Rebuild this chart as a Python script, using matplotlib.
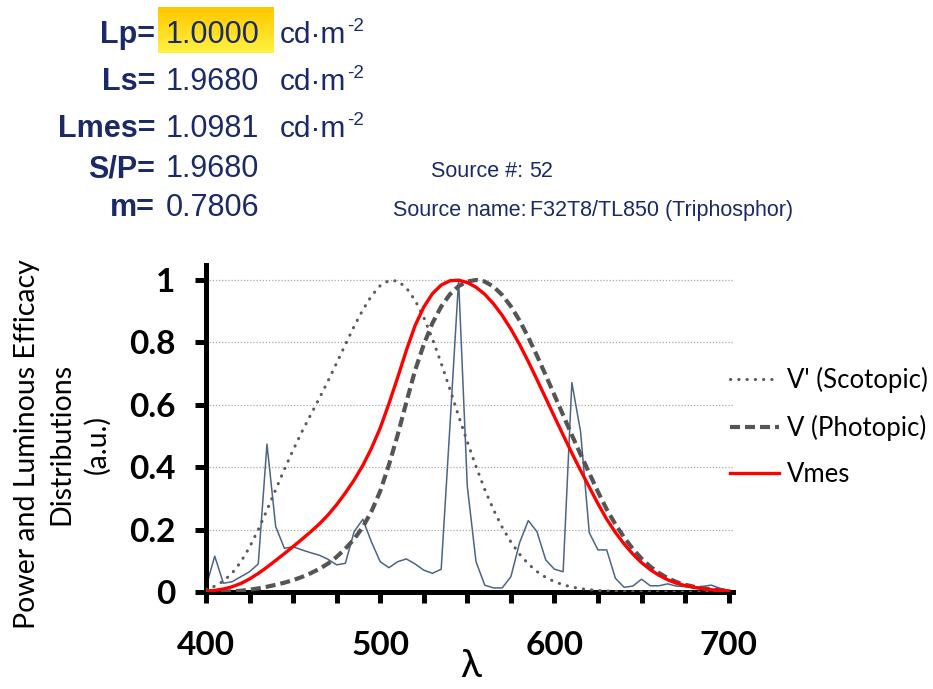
import numpy as np
import matplotlib
matplotlib.use("Agg")
import matplotlib.pyplot as plt

# wavelengths (nm), 5 nm steps
wl = list(range(400, 701, 5))

# CIE scotopic V'(lambda)
v_scot = [0.00929, 0.01852, 0.03484, 0.0604, 0.0966, 0.1436, 0.1998, 0.2625, 0.3281, 0.3931,
          0.455, 0.513, 0.567, 0.62, 0.676, 0.734, 0.793, 0.851, 0.904, 0.949,
          0.982, 0.998, 0.997, 0.975, 0.935, 0.88, 0.811, 0.733, 0.65, 0.564,
          0.481, 0.402, 0.3288, 0.2639, 0.2076, 0.1602, 0.1212, 0.0899, 0.0655, 0.0469,
          0.03315, 0.0231, 0.01593, 0.01088, 0.00737, 0.00497, 0.003335, 0.002235, 0.001497, 0.001005,
          0.000677, 0.000459, 0.000313, 0.000215, 0.000148, 0.000103, 0.0000715, 0.00005, 0.0000353, 0.000025,
          0.0000178]
# CIE photopic V(lambda)
v_phot = [0.0004, 0.00064, 0.0012, 0.00218, 0.004, 0.0073, 0.0116, 0.01684, 0.023, 0.0298,
          0.038, 0.048, 0.06, 0.0739, 0.09098, 0.1126, 0.13902, 0.1693, 0.20802, 0.2586,
          0.323, 0.4073, 0.503, 0.6082, 0.71, 0.7932, 0.862, 0.91485, 0.954, 0.9803,
          0.99495, 1.0, 0.995, 0.9786, 0.952, 0.9154, 0.87, 0.8163, 0.757, 0.6949,
          0.631, 0.5668, 0.503, 0.4412, 0.381, 0.321, 0.265, 0.217, 0.175, 0.1382,
          0.107, 0.0816, 0.061, 0.04458, 0.032, 0.0232, 0.017, 0.01192, 0.00821, 0.005723,
          0.004102]
# mesopic Vmes (m = 0.7806), normalised to 1
v_mes = [0.0026, 0.0051, 0.0096, 0.0168, 0.0273, 0.0418, 0.0595, 0.0795, 0.1011, 0.1231,
         0.1456, 0.1687, 0.1925, 0.2178, 0.2466, 0.2799, 0.3176, 0.3585, 0.4055, 0.4610,
         0.5257, 0.6036, 0.6873, 0.7742, 0.8537, 0.9131, 0.9565, 0.9837, 0.9975, 0.9994,
         0.9918, 0.9767, 0.9543, 0.9239, 0.8867, 0.8428, 0.7934, 0.7385, 0.6805, 0.6214,
         0.5619, 0.5031, 0.4454, 0.3899, 0.3362, 0.2829, 0.2334, 0.1910, 0.1539, 0.1215,
         0.0941, 0.0717, 0.0536, 0.0392, 0.0281, 0.0204, 0.0149, 0.0105, 0.0072, 0.0050,
         0.0036]
# source spectrum (relative power)
spd = [0.016, 0.115, 0.028, 0.033, 0.049, 0.065, 0.09, 0.474, 0.21, 0.14,
       0.145, 0.135, 0.126, 0.118, 0.105, 0.087, 0.092, 0.193, 0.233, 0.16,
       0.097, 0.078, 0.097, 0.106, 0.09, 0.07, 0.06, 0.073, 0.53, 1.0,
       0.338, 0.097, 0.022, 0.013, 0.013, 0.049, 0.158, 0.229, 0.193, 0.103,
       0.073, 0.065, 0.671, 0.514, 0.19, 0.135, 0.135, 0.044, 0.015, 0.019,
       0.041, 0.02, 0.02, 0.026, 0.019, 0.017, 0.015, 0.018, 0.022, 0.012, 0.005]

row_labels = ["Lp=", "Ls=", "Lmes=", "S/P=", "m="]
row_values = ["1.0000", "1.9680", "1.0981", "1.9680", "0.7806"]
row_units = [True, True, True, False, False]
source_no = "52"
source_name = "F32T8/TL850 (Triphosphor)"

W, H = 933, 689
fig = plt.figure(figsize=(W / 100, H / 100), dpi=100)

def fx(px):
    return px / W

def fy(py):
    return 1 - py / H

navy = "#1b2a66"

# yellow highlight behind the Lp value
hl = fig.add_axes([fx(158), fy(53), fx(274 - 158), (53 - 7) / H])
grad = np.linspace(0, 1, 64).reshape(-1, 1)
top = np.array([1.0, 0.78, 0.0])
bot = np.array([1.0, 0.95, 0.25])
img = top[None, None, :] * (1 - grad[:, :, None]) + bot[None, None, :] * grad[:, :, None]
hl.imshow(img, aspect="auto", extent=[0, 1, 0, 1])
hl.axis("off")

baselines = [43, 90, 137, 177, 216]
for lab, val, unit, b in zip(row_labels, row_values, row_units, baselines):
    fig.text(fx(155), fy(b), lab, ha="right", va="baseline", fontsize=22,
             fontweight="bold", color=navy, family="Liberation Sans")
    fig.text(fx(166), fy(b), val, ha="left", va="baseline", fontsize=22,
             color=navy, family="Liberation Sans")
    if unit:
        fig.text(fx(280), fy(b), "cd·m", ha="left", va="baseline", fontsize=21.5,
                 color=navy, family="Liberation Sans")
        fig.text(fx(347), fy(b - 12), "-2", ha="left", va="baseline", fontsize=13.5,
                 color=navy, family="Liberation Sans")

fig.text(fx(523), fy(177), "Source #:", ha="right", va="baseline", fontsize=15.5,
         color=navy, family="Liberation Sans")
fig.text(fx(529), fy(177), source_no, ha="left", va="baseline", fontsize=15.5,
         color=navy, family="Liberation Sans")
fig.text(fx(527), fy(216), "Source name:", ha="right", va="baseline", fontsize=15.5,
         color=navy, family="Liberation Sans")
fig.text(fx(530), fy(216), source_name, ha="left", va="baseline", fontsize=15.5,
         color=navy, family="Liberation Sans")

# main chart
ax = fig.add_axes([fx(206), fy(592), fx(733 - 206), (592 - 265) / H])
ax.plot(wl, spd, color="#4d6485", lw=1.1, zorder=2)
ax.plot(wl, v_scot, color="#5a5a5a", lw=2.2, linestyle=(0, (0.1, 2.6)),
        dash_capstyle="round", label="V' (Scotopic)", zorder=3)
ax.plot(wl, v_phot, color="#555555", lw=3.0, linestyle=(0, (2.4, 1.2)),
        label="V (Photopic)", zorder=4)
ax.plot(wl, v_mes, color="#ff0000", lw=2.4, label="Vmes", zorder=5)

ax.set_xlim(400, 702.5)
ax.set_ylim(0, 1.048)
ax.set_yticks([0, 0.2, 0.4, 0.6, 0.8, 1.0])
ax.set_yticklabels(["0", "0.2", "0.4", "0.6", "0.8", "1"])
xt = list(range(400, 701, 25))
ax.set_xticks(xt)
ax.set_xticklabels([str(t) if t % 100 == 0 else "" for t in xt])
for yv in [0.2, 0.4, 0.6, 0.8, 1.0]:
    ax.axhline(yv, color="#a8a8a8", lw=0.9, linestyle=(0, (1, 1.5)), zorder=1)

for s in ["top", "right"]:
    ax.spines[s].set_visible(False)
for s in ["left", "bottom"]:
    ax.spines[s].set_linewidth(3.6)
    ax.spines[s].set_color("black")
ax.tick_params(axis="both", direction="out", length=8, width=3.6, color="black")
ax.tick_params(axis="y", pad=14)
ax.tick_params(axis="x", pad=20)
for t in ax.get_xticklabels() + ax.get_yticklabels():
    t.set_fontfamily("Lato")
    t.set_fontweight("bold")
    t.set_fontsize(24)

fig.text(fx(62), fy(444), "Power and Luminous Efficacy\nDistributions\n(a.u.)",
         rotation=90, ha="center", va="center", multialignment="center",
         fontsize=20.5, family="Lato", linespacing=1.42)
fig.text(fx(471), fy(666), "λ", ha="center", va="center", fontsize=28, family="Lato")

leg = ax.legend(loc="center left", bbox_to_anchor=(fx(730), fy(427)),
                bbox_transform=fig.transFigure, frameon=False, borderpad=0,
                borderaxespad=0, handlelength=1.9, handletextpad=0.3,
                labelspacing=0.85, prop={"family": "Lato", "size": 18.5})

fig.savefig("out.png", dpi=100)
